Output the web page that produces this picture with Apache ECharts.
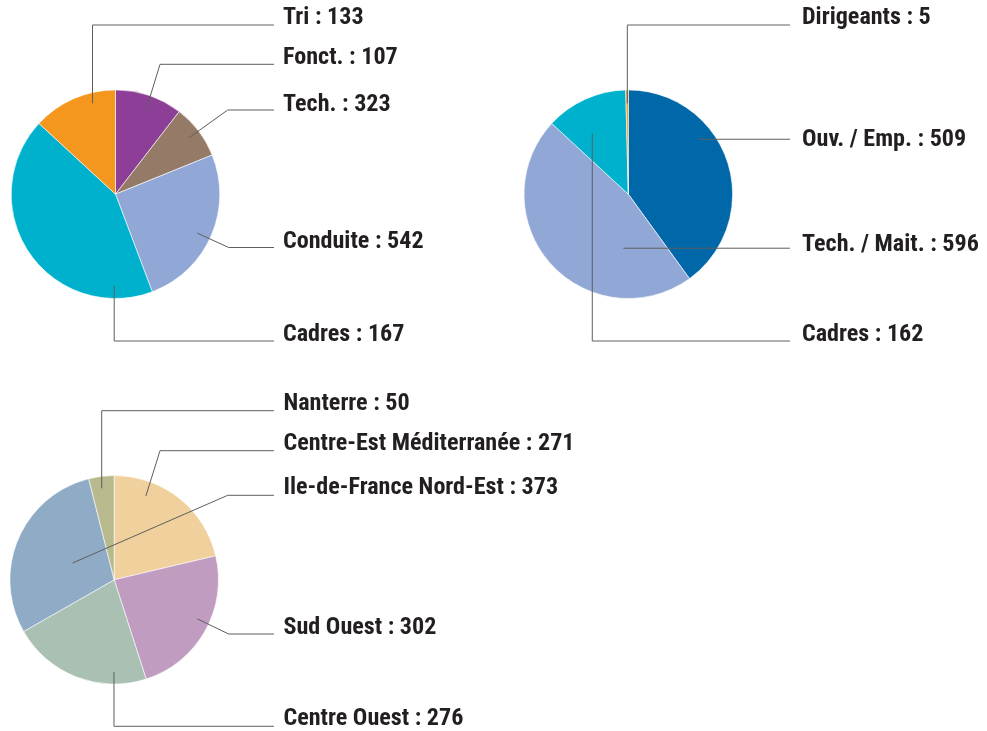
<!DOCTYPE html>
<html>
<head>
<meta charset="utf-8">
<script src="https://cdn.jsdelivr.net/npm/echarts@6/dist/echarts.min.js"></script>
<style>
html, body { margin: 0; padding: 0; background: #ffffff; }
#chart { width: 987px; height: 731px; }
</style>
</head>
<body>
<div id="chart"></div>
<script>
// ---------- DATA (slices listed clockwise from 12 o'clock) ----------
// Pie 1 : staff by function
const staffNames   = ['Fonct.', 'Tech.', 'Conduite', 'Cadres', 'Tri'];
const staffSlices  = [133, 107, 323, 542, 167];   // slice sizes as drawn in the source
const staffPrinted = [107, 323, 542, 167, 133];   // figures printed in the labels of the source

// Pie 2 : staff by category
const catNames  = ['Ouv. / Emp.', 'Tech. / Mait.', 'Cadres', 'Dirigeants'];
const catValues = [509, 596, 162, 5];

// Pie 3 : staff by region
const regionNames  = ['Centre-Est Méditerranée', 'Sud Ouest', 'Centre Ouest', 'Ile-de-France Nord-Est', 'Nanterre'];
const regionValues = [271, 302, 276, 373, 50];

// ---------- STYLE / LAYOUT ----------
const staffColors  = ['#8d3f97', '#957a68', '#91a8d6', '#00b1cd', '#f5961f'];
const catColors    = ['#0068a9', '#91a8d6', '#00b1cd', '#f5961f'];
const regionColors = ['#f0d09d', '#c09dc0', '#a9c0b2', '#8fabc6', '#b8ba8e'];

const R = 104.3;
const LINE_COLOR = '#5e5e5e';

// pick the narrowest installed bold sans, and size it so the longest label spans ~291px
function textWidth(font, txt) {
  const c = document.createElement('canvas').getContext('2d');
  c.font = font;
  return c.measureText(txt).width;
}
const PROBE = 'Centre-Est Méditerranée : 271';
function installed(name) {
  return textWidth('bold 50px monospace', PROBE) !== textWidth("bold 50px '" + name + "', monospace", PROBE)
      || textWidth('bold 50px serif', PROBE) !== textWidth("bold 50px '" + name + "', serif", PROBE);
}
const candidates = ['Liberation Sans Narrow', 'Roboto Condensed', 'Arial Narrow', 'Nimbus Sans Narrow', 'DejaVu Sans Condensed', 'Liberation Sans'];
let FAMILY = 'sans-serif';
for (const c of candidates) { if (installed(c)) { FAMILY = "'" + c + "'"; break; } }
const FONT_SIZE = Math.round(291 / (textWidth('bold 100px ' + FAMILY, PROBE) / 100) * 10) / 10;

// guide: frac = position of the line anchor along the slice's arc, rf = anchor radius fraction,
// knee: x of the elbow, 'v' = vertical leg from the anchor, 'h' = straight horizontal line
const pies = [
  {
    names: staffNames, values: staffSlices, printed: staffPrinted, colors: staffColors,
    center: [115.5, 194.2], lineEnd: 274, textX: 283,
    guides: [
      { frac: 0.53, rf: 0.86, knee: 160,   lineY: 64.3,  base: 66.5 },
      { frac: 0.49, rf: 0.89, knee: 227.7, lineY: 110,   base: 113 },
      { frac: 0.52, rf: 0.87, knee: 228.7, lineY: 247.5, base: 250 },
      { frac: 0.14, rf: 0.88, knee: 'v',   lineY: 341,   base: 343 },
      { frac: 0.70, rf: 0.90, knee: 'v',   lineY: 25,    base: 26.7 }
    ]
  },
  {
    names: catNames, values: catValues, printed: catValues, colors: catColors,
    center: [628.3, 194.2], lineEnd: 790, textX: 802,
    guides: [
      { frac: 0.36,  rf: 0.853, knee: 'h', base: 148 },
      { frac: 0.244, rf: 0.52,  knee: 'h', base: 253 },
      { frac: 0.363, rf: 0.678, knee: 'v', lineY: 341, base: 343 },
      { frac: 0.56,  rf: 0.87,  knee: 'v', lineY: 25,  base: 26.7 }
    ]
  },
  {
    names: regionNames, values: regionValues, printed: regionValues, colors: regionColors,
    center: [114.2, 579.8], lineEnd: 274, textX: 283.5,
    guides: [
      { frac: 0.27, rf: 0.86,  knee: 160,   lineY: 450.7, base: 452 },
      { frac: 0.45, rf: 0.88,  knee: 228.7, lineY: 634,   base: 636 },
      { frac: 0.23, rf: 0.885, knee: 'v',   lineY: 726.3, base: 727 },
      { frac: 0.49, rf: 0.43,  knee: 227.7, lineY: 495.3, base: 496 },
      { frac: 0.45, rf: 0.885, knee: 'v',   lineY: 410.7, base: 412 }
    ]
  }
];

function anchorOf(p, i, g) {
  const total = p.values.reduce((a, b) => a + b, 0);
  let before = 0;
  for (let k = 0; k < i; k++) before += p.values[k];
  const a0 = before / total * 360;
  const a1 = (before + p.values[i]) / total * 360;
  const a = (a0 + g.frac * (a1 - a0)) * Math.PI / 180;
  return [p.center[0] + g.rf * R * Math.sin(a), p.center[1] - g.rf * R * Math.cos(a)];
}

function guidePoints(p, i) {
  const g = p.guides[i];
  const [ax, ay] = anchorOf(p, i, g);
  if (g.knee === 'h') return [[ax, ay], [p.lineEnd, ay]];
  if (g.knee === 'v') return [[ax, ay], [ax, g.lineY], [p.lineEnd, g.lineY]];
  return [[ax, ay], [g.knee, g.lineY], [p.lineEnd, g.lineY]];
}

const series = pies.map(p => ({
  type: 'pie',
  center: p.center,
  radius: R,
  startAngle: 90,
  clockwise: true,
  avoidLabelOverlap: false,
  silent: true,
  itemStyle: { borderColor: '#ffffff', borderWidth: 0.6 },
  data: p.names.map((n, i) => ({ name: n, value: p.values[i], itemStyle: { color: p.colors[i] } })),
  label: {
    show: true,
    position: 'outside',
    formatter: q => p.names[q.dataIndex] + ' : ' + p.printed[q.dataIndex],
    fontFamily: FAMILY,
    fontSize: FONT_SIZE,
    fontWeight: 'bold',
    color: '#231f20',
    width: 420,
    overflow: 'none',
    lineHeight: FONT_SIZE
  },
  labelLine: { show: false },
  labelLayout: q => ({
    x: p.textX,
    y: p.guides[q.dataIndex].base - 8.3,
    align: 'left',
    verticalAlign: 'middle'
  })
}));

// leader lines, computed from the slices above, drawn over the pies
const leaderLines = [];
pies.forEach(p => p.values.forEach((v, i) => {
  leaderLines.push({
    type: 'polyline',
    z: 100,
    silent: true,
    shape: { points: guidePoints(p, i) },
    style: { stroke: LINE_COLOR, lineWidth: 1, fill: null }
  });
}));

const chart = echarts.init(document.getElementById('chart'), null, { renderer: 'canvas' });
chart.setOption({
  animation: false,
  backgroundColor: '#ffffff',
  series: series,
  graphic: { elements: leaderLines }
});
</script>
</body>
</html>
